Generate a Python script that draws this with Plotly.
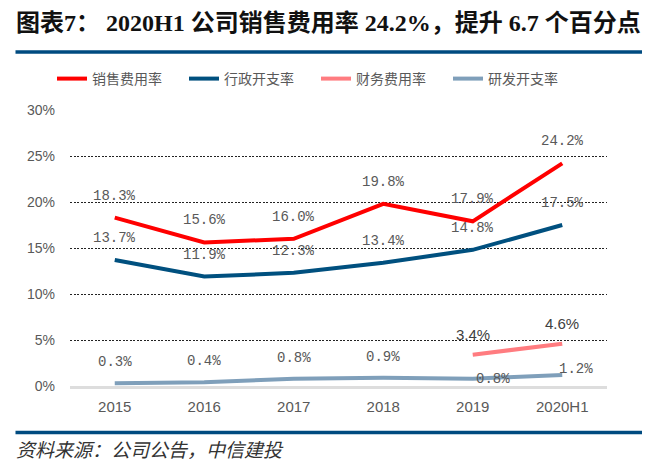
import plotly.graph_objects as go

categories = ["2015", "2016", "2017", "2018", "2019", "2020H1"]
sales = [18.3, 15.6, 16.0, 19.8, 17.9, 24.2]
admin = [13.7, 11.9, 12.3, 13.4, 14.8, 17.5]
finance = [None, None, None, None, 3.4, 4.6]
rnd = [0.3, 0.4, 0.8, 0.9, 0.8, 1.2]
names = ["销售费用率", "行政开支率", "财务费用率", "研发开支率"]
colors = ["#FF0000", "#00507F", "#FF7C80", "#7F9FBA"]
y_ticks = [0, 5, 10, 15, 20, 25, 30]

title = "图表7： 2020H1 公司销售费用率 24.2%，提升 6.7 个百分点"
source = "资料来源：公司公告，中信建投"

W, H = 650, 462
L, R, T, B = 62, 51, 102, 84
pw, ph = W - L - R, H - T - B


def px_to_paper(xp, yp):
    return (xp - L) / pw, (H - B - yp) / ph


fig = go.Figure()
for series, name, color in zip([sales, admin, finance, rnd], names, colors):
    fig.add_trace(go.Scatter(
        x=categories, y=series, name=name, mode="lines",
        line=dict(color=color, width=4), connectgaps=False,
        hoverinfo="skip",
    ))

label_font = dict(family="Liberation Mono, DejaVu Sans Mono", size=14, color="#595959")
fin_font = dict(family="Liberation Sans, Arial", size=15, color="#404040")
ann = []
for series in (sales, admin):
    for i, v in enumerate(series):
        ann.append(dict(x=i, y=v, xref="x", yref="y", text=f"{v:.1f}%",
                        showarrow=False, yshift=22, font=label_font))
for i, v in enumerate(finance):
    if v is not None:
        ann.append(dict(x=i, y=v, xref="x", yref="y", text=f"{v:.1f}%",
                        showarrow=False, yshift=20, font=fin_font))
for i, v in enumerate(rnd):
    if i < 4:
        ann.append(dict(x=i, y=v, xref="x", yref="y", text=f"{v:.1f}%",
                        showarrow=False, yshift=21, font=label_font))
    elif i == 4:
        ann.append(dict(x=i, y=v, xref="x", yref="y", text=f"{v:.1f}%",
                        showarrow=False, xanchor="left", xshift=1, yshift=0,
                        font=label_font))
    else:
        ann.append(dict(x=i, y=v, xref="x", yref="y", text=f"{v:.1f}%",
                        showarrow=False, xanchor="left", xshift=-5, yshift=6,
                        font=label_font))

tx, ty = px_to_paper(6, 15)
ann.append(dict(x=tx, y=ty, xref="paper", yref="paper",
                text=title, showarrow=False, xanchor="left", yanchor="middle",
                font=dict(family="Liberation Serif, Noto Sans CJK SC", size=24,
                          color="#111111", weight="bold")))
sx, sy = px_to_paper(6, 440)
ann.append(dict(x=sx, y=sy, xref="paper", yref="paper",
                text=source, showarrow=False, xanchor="left", yanchor="middle",
                font=dict(family="Noto Sans CJK SC", size=19, color="#333333",
                          style="italic")))

shapes = []
for ypix in (44, 424.5):
    x0, y0 = px_to_paper(7.5, ypix)
    x1, _ = px_to_paper(650, ypix)
    shapes.append(dict(type="line", xref="paper", yref="paper", x0=x0, x1=x1,
                       y0=y0, y1=y0, line=dict(color="#004B80", width=3.5)))

lx, ly = px_to_paper(44, 71)
fig.update_layout(
    width=W, height=H,
    margin=dict(l=L, r=R, t=T, b=B, pad=0, autoexpand=False),
    paper_bgcolor="white", plot_bgcolor="white",
    showlegend=True,
    legend=dict(orientation="h", x=lx, y=ly,
                xanchor="left", yanchor="middle",
                font=dict(family="Noto Sans CJK SC", size=14, color="#595959"),
                entrywidth=87, entrywidthmode="pixels", itemwidth=30,
                bgcolor="rgba(0,0,0,0)", tracegroupgap=0),
    annotations=ann, shapes=shapes,
    xaxis=dict(type="category", range=[-0.5, 5.5], showgrid=False,
               showline=True, linecolor="#DDDDDD", linewidth=2.5,
               ticks="", tickfont=dict(family="Liberation Sans, Arial", size=15, color="#595959"),
               ticklabelstandoff=5, fixedrange=True),
    yaxis=dict(range=[0, 30], tickvals=y_ticks,
               ticktext=[f"{t}%" for t in y_ticks],
               showgrid=True, gridcolor="#222222", gridwidth=1, griddash="2px,1.5px",
               zeroline=False, showline=False, ticks="",
               tickfont=dict(family="Liberation Sans, Arial", size=14, color="#595959"),
               ticklabelstandoff=14, fixedrange=True),
)
fig.write_html("out.html")
